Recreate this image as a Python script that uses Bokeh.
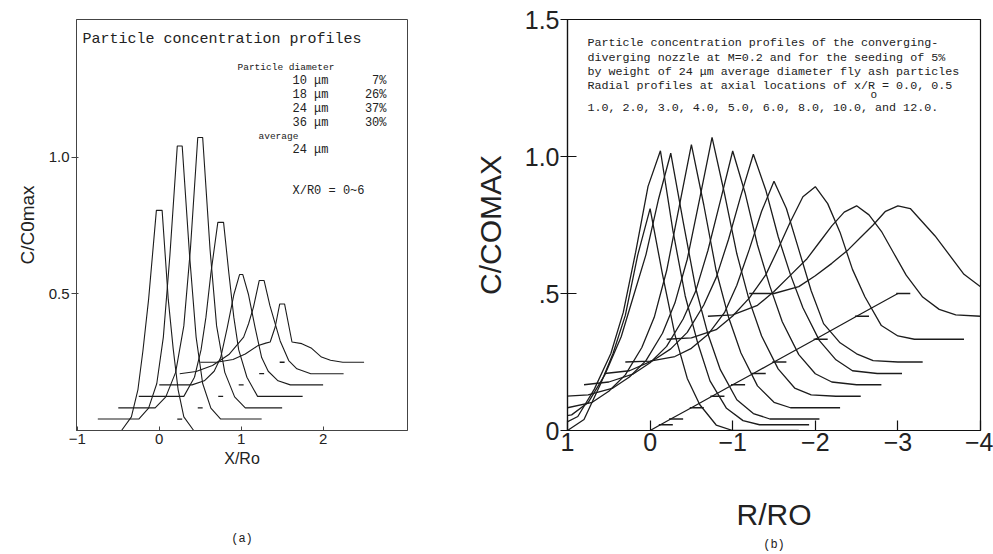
import math
from bokeh.plotting import figure
from bokeh.models import Range1d, FixedTicker, Label, LinearAxis
from bokeh.layouts import row
from bokeh.embed import file_html
from bokeh.resources import INLINE

# ---------------- panel (a) data ----------------
A_XR0 = [0, 1, 2, 3, 4, 5, 6]
A_CENTER = [0.0, 0.25, 0.5, 0.75, 1.0, 1.25, 1.5]
A_BASE = [0.0, 0.042, 0.083, 0.125, 0.167, 0.208, 0.25]

A_R1 = [-1.0, -0.46, -0.34, -0.26, -0.2, -0.13, -0.035, 0.035, 0.11, 0.17, 0.23, 0.30, 0.42, 1.0]
A_C1 = [0, 0, 0.05, 0.15, 0.29, 0.48, 0.806, 0.806, 0.48, 0.30, 0.15, 0.05, 0, 0]
A_R2 = [-1.0, -0.5, -0.38, -0.28, -0.2, -0.12, -0.03, 0.03, 0.12, 0.2, 0.28, 0.38, 0.5, 1.0]
A_C2 = [0, 0, 0.04, 0.13, 0.3, 0.6, 1.0, 1.0, 0.6, 0.3, 0.13, 0.04, 0, 0]
A_R3 = [-1.0, -0.55, -0.42, -0.3, -0.2, -0.12, -0.03, 0.03, 0.12, 0.2, 0.3, 0.42, 0.55, 1.0]
A_C3 = [0, 0, 0.04, 0.13, 0.3, 0.58, 0.99, 0.99, 0.58, 0.3, 0.13, 0.04, 0, 0]
A_R4 = [-1.0, -0.45, -0.32, -0.24, -0.18, -0.12, -0.035, 0.035, 0.1, 0.16, 0.22, 0.32, 0.45, 1.0]
A_C4 = [0, 0, 0.07, 0.17, 0.29, 0.45, 0.637, 0.637, 0.45, 0.29, 0.17, 0.07, 0, 0]
A_R5 = [-1.0, -0.6, -0.45, -0.33, -0.25, -0.17, -0.09, -0.02, 0.02, 0.09, 0.17, 0.25, 0.33, 0.45, 0.6, 1.0]
A_C5 = [0, 0, 0.015, 0.05, 0.1, 0.21, 0.33, 0.404, 0.404, 0.33, 0.21, 0.1, 0.05, 0.015, 0, 0]
A_R6 = [-1.0, -0.8, -0.6, -0.4, -0.22, -0.16, -0.1, -0.03, 0.03, 0.1, 0.226, 0.33, 0.43, 0.6, 1.0]
A_C6 = [0, 0.008, 0.03, 0.07, 0.134, 0.183, 0.244, 0.341, 0.341, 0.25, 0.12, 0.048, 0.018, 0, 0]
A_R7 = [-1.0, -0.8, -0.6, -0.45, -0.3, -0.2, -0.146, -0.085, -0.03, 0.03, 0.12, 0.24, 0.36, 0.48, 0.59, 0.74, 1.0]
A_C7 = [0, 0, 0.01, 0.03, 0.06, 0.07, 0.074, 0.129, 0.213, 0.213, 0.074, 0.068, 0.051, 0.019, 0.007, 0, 0]
A_PROFILES = [(A_R1, A_C1), (A_R2, A_C2), (A_R3, A_C3), (A_R4, A_C4),
              (A_R5, A_C5), (A_R6, A_C6), (A_R7, A_C7)]

A_XTICKS = [-1, 0, 1, 2]
A_YTICKS = [0.5, 1.0]
A_YLABELS = {0.5: "0.5", 1.0: "1.0"}
A_TITLE = "Particle concentration profiles"
A_DIAM_HEAD = "Particle diameter"
A_DIAMS = ["10 μm", "18 μm", "24 μm", "36 μm"]
A_PCTS = ["7%", "26%", "37%", "30%"]
A_AVG_HEAD = "average"
A_AVG = "24 μm"
A_RANGE_TXT = "X/R0  =  0~6"

# ---------------- panel (b) data ----------------
B_XR0 = [0.0, 0.5, 1.0, 2.0, 3.0, 4.0, 5.0, 6.0, 8.0, 10.0, 12.0]
B_CENTER = [0.0, -0.125, -0.25, -0.5, -0.75, -1.0, -1.25, -1.5, -2.0, -2.5, -3.0]
B_BASE = [0.0, 0.021, 0.042, 0.083, 0.125, 0.167, 0.208, 0.25, 0.333, 0.417, 0.5]
B_R = [1.8, 1.5, 1.2, 1.0, 0.8, 0.6, 0.45, 0.3, 0.15, 0.0,
       -0.15, -0.3, -0.45, -0.6, -0.8, -1.0, -1.2, -1.5, -1.8]
B_C1 = [0, 0, 0, 0, 0.04, 0.17, 0.28, 0.42, 0.64, 0.81, 0.57, 0.35, 0.19, 0.095, 0.02, 0, 0, 0, 0]
B_C2 = [0, 0, 0, 0.03, 0.13, 0.26, 0.41, 0.63, 0.87, 1.0, 0.71, 0.47, 0.3, 0.16, 0.06, 0.015, 0, 0, 0]
B_C3 = [0, 0, 0.015, 0.06, 0.16, 0.3, 0.45, 0.6, 0.8, 0.97, 0.72, 0.48, 0.31, 0.18, 0.07, 0.02, 0, 0, 0]
B_C4 = [0, 0, 0.02, 0.06, 0.12, 0.22, 0.33, 0.5, 0.73, 0.96, 0.74, 0.5, 0.33, 0.2, 0.08, 0.02, 0, 0, 0]
B_C5 = [0, 0.005, 0.03, 0.07, 0.13, 0.23, 0.34, 0.5, 0.72, 0.945, 0.74, 0.52, 0.35, 0.22, 0.1, 0.03, 0.005, 0, 0]
B_C6 = [0, 0.01, 0.04, 0.08, 0.14, 0.24, 0.34, 0.49, 0.67, 0.853, 0.7, 0.51, 0.36, 0.23, 0.11, 0.04, 0.01, 0, 0]
B_C7 = [0, 0.01, 0.05, 0.09, 0.15, 0.25, 0.35, 0.49, 0.65, 0.80, 0.67, 0.5, 0.36, 0.24, 0.12, 0.05, 0.01, 0, 0]
B_C8 = [0, 0.003, 0.02, 0.05, 0.1, 0.18, 0.28, 0.41, 0.55, 0.66, 0.56, 0.41, 0.26, 0.14, 0.07, 0.03, 0.005, 0, 0]
B_C9 = [0, 0.005, 0.035, 0.085, 0.15, 0.235, 0.33, 0.43, 0.52, 0.557, 0.495, 0.39, 0.255, 0.155, 0.05, 0.012, 0, 0, 0]
B_C10 = [0, 0.005, 0.04, 0.09, 0.15, 0.21, 0.27, 0.33, 0.38, 0.403, 0.37, 0.31, 0.23, 0.15, 0.07, 0.025, 0.005, 0, 0]
B_C11 = [0, 0, 0.025, 0.065, 0.11, 0.16, 0.205, 0.25, 0.3, 0.32, 0.31, 0.26, 0.21, 0.15, 0.07, 0.025, 0.01, 0, 0]
B_PROFILES = [B_C1, B_C2, B_C3, B_C4, B_C5, B_C6, B_C7, B_C8, B_C9, B_C10, B_C11]

B_XTICKS = [1, 0, -1, -2, -3, -4]
B_YTICKS = [0, 0.5, 1.0, 1.5]
B_YLABELS = {0: "0", 0.5: ".5", 1.0: "1.0", 1.5: "1.5"}
B_TEXT = [
    "Particle concentration profiles of the converging-",
    "diverging nozzle at M=0.2 and for the seeding of 5%",
    "by weight of 24 μm average diameter fly ash particles",
    "Radial profiles at axial locations of x/R  = 0.0, 0.5",
    "1.0, 2.0, 3.0, 4.0, 5.0, 6.0, 8.0, 10.0, and 12.0.",
]

# ---------------- layout ----------------
H = 554
WA = 467
WB = 526
INK = "#1c1c1c"
TXT = "#222222"


def ax(px):
    return -1.01 + (px - 76) / 81.93


def ay(py):
    return (430 - py) / 273.1


def bx(px):
    return 1.0 - (px - 567) / 82.6


def by(py):
    return (433 - py) / 276.0


def put(p, x, y, text, size, font="Liberation Mono", align="left", angle=0.0):
    p.add_layout(Label(x=x, y=y, text=text, text_font=font,
                       text_font_size=f"{size}px", text_align=align,
                       text_baseline="middle", angle=angle, text_color=TXT))


def caption_axis(text, standoff, size, font):
    return LinearAxis(ticker=FixedTicker(ticks=[]), axis_line_color=None,
                      major_tick_line_color=None, minor_tick_line_color=None,
                      major_tick_in=0, major_tick_out=0, major_label_standoff=0,
                      major_label_text_font_size="1px",
                      axis_label=text, axis_label_standoff=standoff,
                      axis_label_text_font=font, axis_label_text_font_size=size,
                      axis_label_text_font_style="normal", axis_label_text_color=TXT)


# ---- panel (a)
pa = figure(width=WA, height=H, output_backend="svg", toolbar_location=None,
            x_range=Range1d(-1.01, 3.03), y_range=Range1d(0, 1.505),
            min_border_left=76, min_border_right=WA - 407,
            min_border_top=19, min_border_bottom=H - 430)
pa.grid.visible = False
pa.outline_line_color = "#444444"
pa.outline_line_width = 1
for axis in (pa.xaxis[0], pa.yaxis[0]):
    axis.minor_tick_line_color = None
    axis.axis_line_color = "#444444"
    axis.major_tick_line_color = "#444444"
    axis.major_label_text_font = "Liberation Sans"
    axis.major_label_text_font_size = "15px"
    axis.major_label_text_color = TXT
    axis.axis_label_text_font = "Liberation Sans"
    axis.axis_label_text_font_style = "normal"
    axis.axis_label_text_color = TXT
pa.xaxis.ticker = FixedTicker(ticks=A_XTICKS)
pa.xaxis.major_tick_in = 4
pa.xaxis.major_tick_out = 0
pa.xaxis.major_label_standoff = 3
pa.xaxis.axis_label = "X/Ro"
pa.xaxis.axis_label_text_font_size = "16px"
pa.xaxis.axis_label_standoff = 3
pa.yaxis.ticker = FixedTicker(ticks=A_YTICKS)
pa.yaxis.major_label_overrides = A_YLABELS
pa.yaxis.major_tick_in = 2
pa.yaxis.major_tick_out = 5
pa.yaxis.major_label_standoff = 2
pa.yaxis.axis_label = "C/C0max"
pa.yaxis.axis_label_text_font_size = "19px"
pa.yaxis.axis_label_standoff = 8
pa.add_layout(caption_axis("(a)", 62, "12px", "Liberation Mono"), "below")

for (r, c), xc, b in zip(A_PROFILES, A_CENTER, A_BASE):
    pa.line([xc + ri for ri in r], [b + ci for ci in c], line_color=INK, line_width=1.1)
pa.segment(x0=[xc - 0.03 for xc in A_CENTER[1:]], y0=A_BASE[1:],
           x1=[xc + 0.03 for xc in A_CENTER[1:]], y1=A_BASE[1:],
           line_color=INK, line_width=1.3)

put(pa, ax(82), ay(39), A_TITLE, 15)
put(pa, ax(237), ay(67), A_DIAM_HEAD, 9.5)
for i, (d, pc) in enumerate(zip(A_DIAMS, A_PCTS)):
    yy = ay(80 + 14 * i)
    put(pa, ax(292), yy, d, 12)
    put(pa, ax(386), yy, pc, 12, align="right")
put(pa, ax(258), ay(136), A_AVG_HEAD, 9.5)
put(pa, ax(292), ay(149), A_AVG, 12)
put(pa, ax(292), ay(190), A_RANGE_TXT, 12)

# ---- panel (b)
BL = 567 - WA
pb = figure(width=WB, height=H, output_backend="svg", toolbar_location=None,
            x_range=Range1d(1.0, -4.0), y_range=Range1d(0, 1.5),
            min_border_left=BL, min_border_right=WB - BL - 413,
            min_border_top=19, min_border_bottom=H - 433)
pb.grid.visible = False
pb.outline_line_color = "#111111"
pb.outline_line_width = 1.2
for axis in (pb.xaxis[0], pb.yaxis[0]):
    axis.minor_tick_line_color = None
    axis.axis_line_color = "#111111"
    axis.axis_line_width = 1.2
    axis.major_tick_line_color = "#111111"
    axis.major_tick_line_width = 1.2
    axis.major_label_text_font = "Liberation Sans"
    axis.major_label_text_font_size = "25px"
    axis.major_label_text_color = TXT
    axis.axis_label_text_font = "Liberation Sans"
    axis.axis_label_text_font_style = "normal"
    axis.axis_label_text_font_size = "30px"
    axis.axis_label_text_color = TXT
pb.xaxis.ticker = FixedTicker(ticks=B_XTICKS)
pb.xaxis.major_tick_in = 10
pb.xaxis.major_tick_out = 0
pb.xaxis.major_label_standoff = 2
pb.xaxis.axis_label = "R/RO"
pb.xaxis.axis_label_standoff = 44
pb.yaxis.ticker = FixedTicker(ticks=B_YTICKS)
pb.yaxis.major_label_overrides = B_YLABELS
pb.yaxis.major_tick_in = 9
pb.yaxis.major_tick_out = 7
pb.yaxis.major_label_standoff = 1
pb.yaxis.axis_label = "C/COMAX"
pb.yaxis.axis_label_standoff = 15
pb.add_layout(caption_axis("(b)", 4, "12px", "Liberation Mono"), "below")

for c, xc, b in zip(B_PROFILES, B_CENTER, B_BASE):
    pb.line([xc + ri for ri in B_R], [b + ci for ci in c], line_color=INK, line_width=1.3)
pb.line(B_CENTER, B_BASE, line_color=INK, line_width=1.3)
pb.segment(x0=[xc + 0.02 for xc in B_CENTER[1:]], y0=B_BASE[1:],
           x1=[xc - 0.15 for xc in B_CENTER[1:]], y1=B_BASE[1:],
           line_color=INK, line_width=1.3)

for i, line in enumerate(B_TEXT):
    yy = [43, 58, 72, 86, 108][i]
    put(pb, bx(587), by(yy), line, 11.7)
put(pb, bx(870), by(95), "o", 11)

layout = row(pa, pb)
open("out.html", "w").write(file_html(layout, INLINE, title="Particle concentration profiles"))
